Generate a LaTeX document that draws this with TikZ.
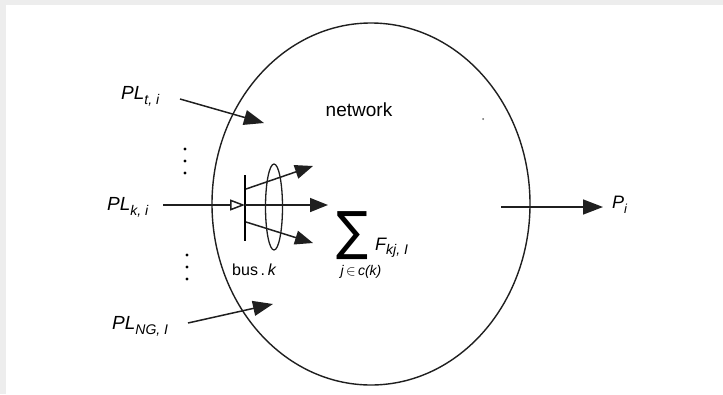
\documentclass[tikz,border=0pt]{standalone}
\usepackage{fontspec}
\usepackage{graphicx}
\setmainfont{Liberation Sans}
\newfontfamily\djv{DejaVu Sans}
\usetikzlibrary{arrows.meta,shapes.geometric}
\newcommand\PLlab[1]{{\fontsize{19}{19}\selectfont\itshape PL}\raisebox{-5pt}{\fontsize{14}{14}\selectfont\itshape #1}}
\begin{document}
\begin{tikzpicture}[x=1pt,y=-1pt,
  ln/.style={line width=1.5pt,black!88},
  fa/.style={ln,-{Triangle[length=20pt,width=15pt]}},
  sa/.style={ln,-{Triangle[length=18pt,width=14pt]}},
  lab/.style={inner sep=0pt,anchor=west}]
\fill[black!7] (0,0) rectangle (723,394);
\fill[white] (6,5) rectangle (723,394);
\useasboundingbox (0,0) rectangle (723,394);
% network ellipse
\node[ellipse,draw,line width=1.4pt,black!88,minimum width=318pt,minimum height=362pt,inner sep=0pt] (net) at (371,204) {};
\node[inner sep=0pt] (nettxt) at (359,110) {\fontsize{19}{19}\selectfont network};
\fill[black!60] (483,119) circle (1pt);
% labels
\node[lab] (plt) at (121,96) {\PLlab{t, i}};
\node[lab] (plk) at (107,207) {\PLlab{k, i}};
\node[lab] (plng) at (112,326) {\PLlab{NG, I}};
% dots
\foreach \yy in {149,161,173} \fill (185,\yy) circle (1.6pt);
\foreach \yy in {255,267,279} \fill (187,\yy) circle (1.6pt);
% input arrows
\coordinate (t0) at (180,99); \coordinate (t1) at (264,123);
\draw[fa] (t0) -- (t1);
\coordinate (n0) at (188,323); \coordinate (n1) at (273,304);
\draw[fa] (n0) -- (n1);
% bus
\coordinate (btop) at (245,175); \coordinate (bbot) at (245,241);
\draw[line width=2.2pt] (btop) -- (bbot);
\coordinate (k0) at (163,205); \coordinate (bmid) at (245,205);
\draw[ln,-{Triangle[open,length=15pt,width=11pt]}] (k0) -- (bmid);
\coordinate (u0) at (246,189); \coordinate (u1) at (313,166);
\coordinate (m1) at (328,205);
\coordinate (l0) at (246,222); \coordinate (l1) at (313,243);
\draw[sa] (u0) -- (u1);
\draw[sa] (bmid) -- (m1);
\draw[sa] (l0) -- (l1);
\node[ellipse,draw,line width=1.3pt,black!88,minimum width=17pt,minimum height=86pt,inner sep=0pt] (grp) at (274,207) {};
\node[inner sep=0pt] (bus) at (254,270) {\fontsize{16}{16}\selectfont bus\,.\,\itshape k};
% sum
\node[inner sep=0pt] (sig) at (352,236) {\resizebox*{32pt}{48pt}{\djv ∑}};
\node[lab] (F) at (375,248) {{\fontsize{18}{18}\selectfont\itshape F}\raisebox{-4pt}{\fontsize{14}{14}\selectfont\itshape kj, I}};
\node[inner sep=0pt] (jc) at (361,272) {\fontsize{14}{14}\selectfont\itshape j\,$\in$\,c(k)};
% output
\coordinate (o0) at (501,207); \coordinate (o1) at (603,207);
\draw[fa] (o0) -- (o1);
\node[lab] (pi) at (612,205) {{\fontsize{18}{18}\selectfont\itshape P}\raisebox{-5pt}{\fontsize{13}{13}\selectfont\itshape i}};
\end{tikzpicture}
\end{document}
